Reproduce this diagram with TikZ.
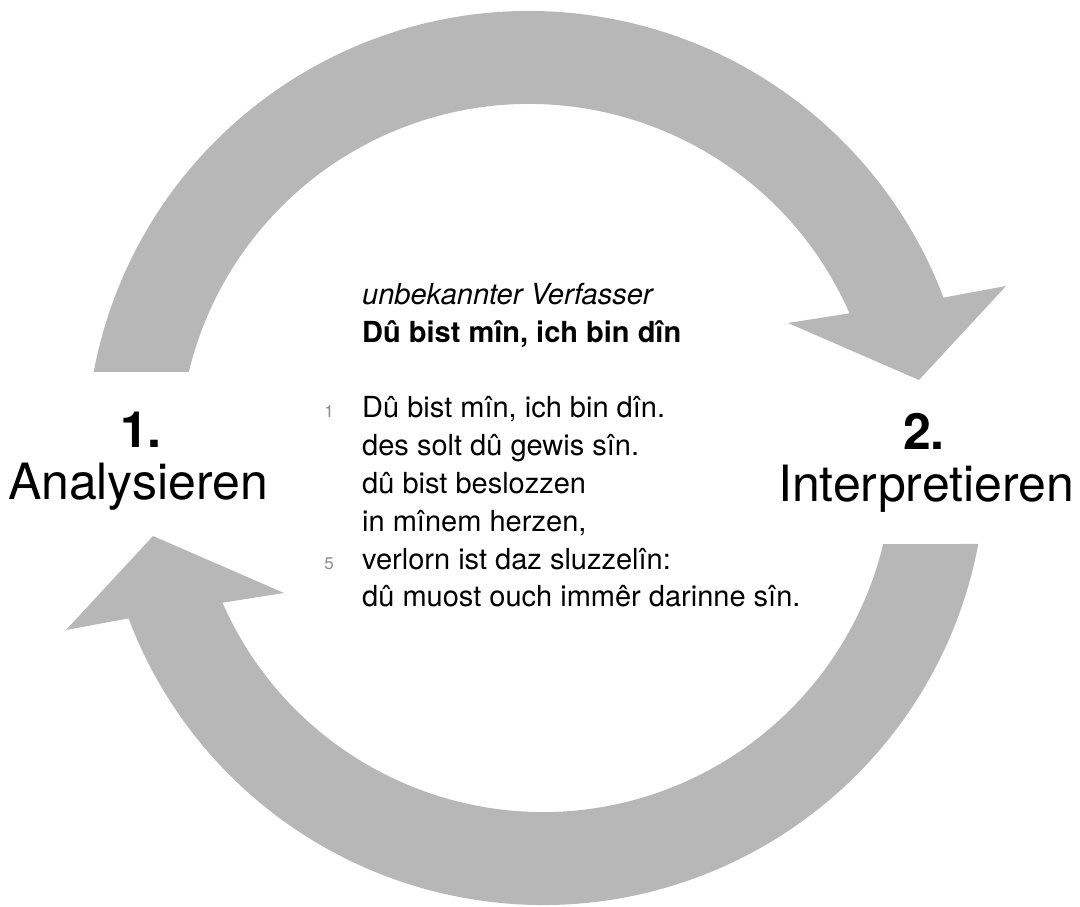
\documentclass[tikz,border=0pt]{standalone}
\usepackage{fontspec}
\setmainfont{TeX Gyre Heros}
\definecolor{arrowgray}{RGB}{183,183,183}
\definecolor{numgray}{RGB}{140,140,140}
\begin{document}
\begin{tikzpicture}[x=1pt,y=1pt,
  cyclearrow/.style={fill=arrowgray,draw=none},
  stepnum/.style={font=\fontsize{50}{60}\selectfont\bfseries,inner sep=0pt,anchor=base},
  stepname/.style={font=\fontsize{50}{60}\selectfont,inner sep=0pt,anchor=base},
  poemline/.style={font=\fontsize{29}{38}\selectfont,inner sep=0pt,anchor=base west},
  linenum/.style={font=\fontsize{17}{20}\selectfont,text=numgray,inner sep=0pt,anchor=base}]
\useasboundingbox (0,0) rectangle (1080,906);
% top arrow (Analysieren -> Interpretieren)
\path[cyclearrow] (93.7,534.0) arc[start angle=169.33,end angle=20.68,radius=443]
  -- (1006,620) -- (919,526) -- (788,583) -- (849.5,592.7)
  arc[start angle=23.7,end angle=166.45,radius=350] -- cycle;
% bottom arrow (Interpretieren -> Analysieren)
\path[cyclearrow] (978.3,362.0) arc[start angle=349.33,end angle=200.68,radius=443]
  -- (66,276) -- (153,370) -- (284,313) -- (222.5,303.3)
  arc[start angle=203.7,end angle=346.45,radius=350] -- cycle;
% step labels
\node[stepnum] (n1) at (141,458) {1.};
\node[stepname] (a1) at (138,406) {Analysieren};
\node[stepnum] (n2) at (924,456) {2.};
\node[stepname] (a2) at (926,404) {Interpretieren};
% poem
\node[poemline,font=\fontsize{29}{38}\selectfont\itshape] (author) at (362,601) {unbekannter Verfasser};
\node[poemline,font=\fontsize{29}{38}\selectfont\bfseries] (title) at (362,563) {Dû bist mîn, ich bin dîn};
\node[poemline] (v1) at (362,488.0) {Dû bist mîn, ich bin dîn.};
\node[poemline] (v2) at (362,450.2) {des solt dû gewis sîn.};
\node[poemline] (v3) at (362,412.4) {dû bist beslozzen};
\node[poemline] (v4) at (362,374.6) {in mînem herzen,};
\node[poemline] (v5) at (362,336.8) {verlorn ist daz sluzzelîn:};
\node[poemline] (v6) at (362,299.0) {dû muost ouch immêr darinne sîn.};
\node[linenum] (ln1) at (329,488.0) {1};
\node[linenum] (ln5) at (329,336.8) {5};
\end{tikzpicture}
\end{document}
